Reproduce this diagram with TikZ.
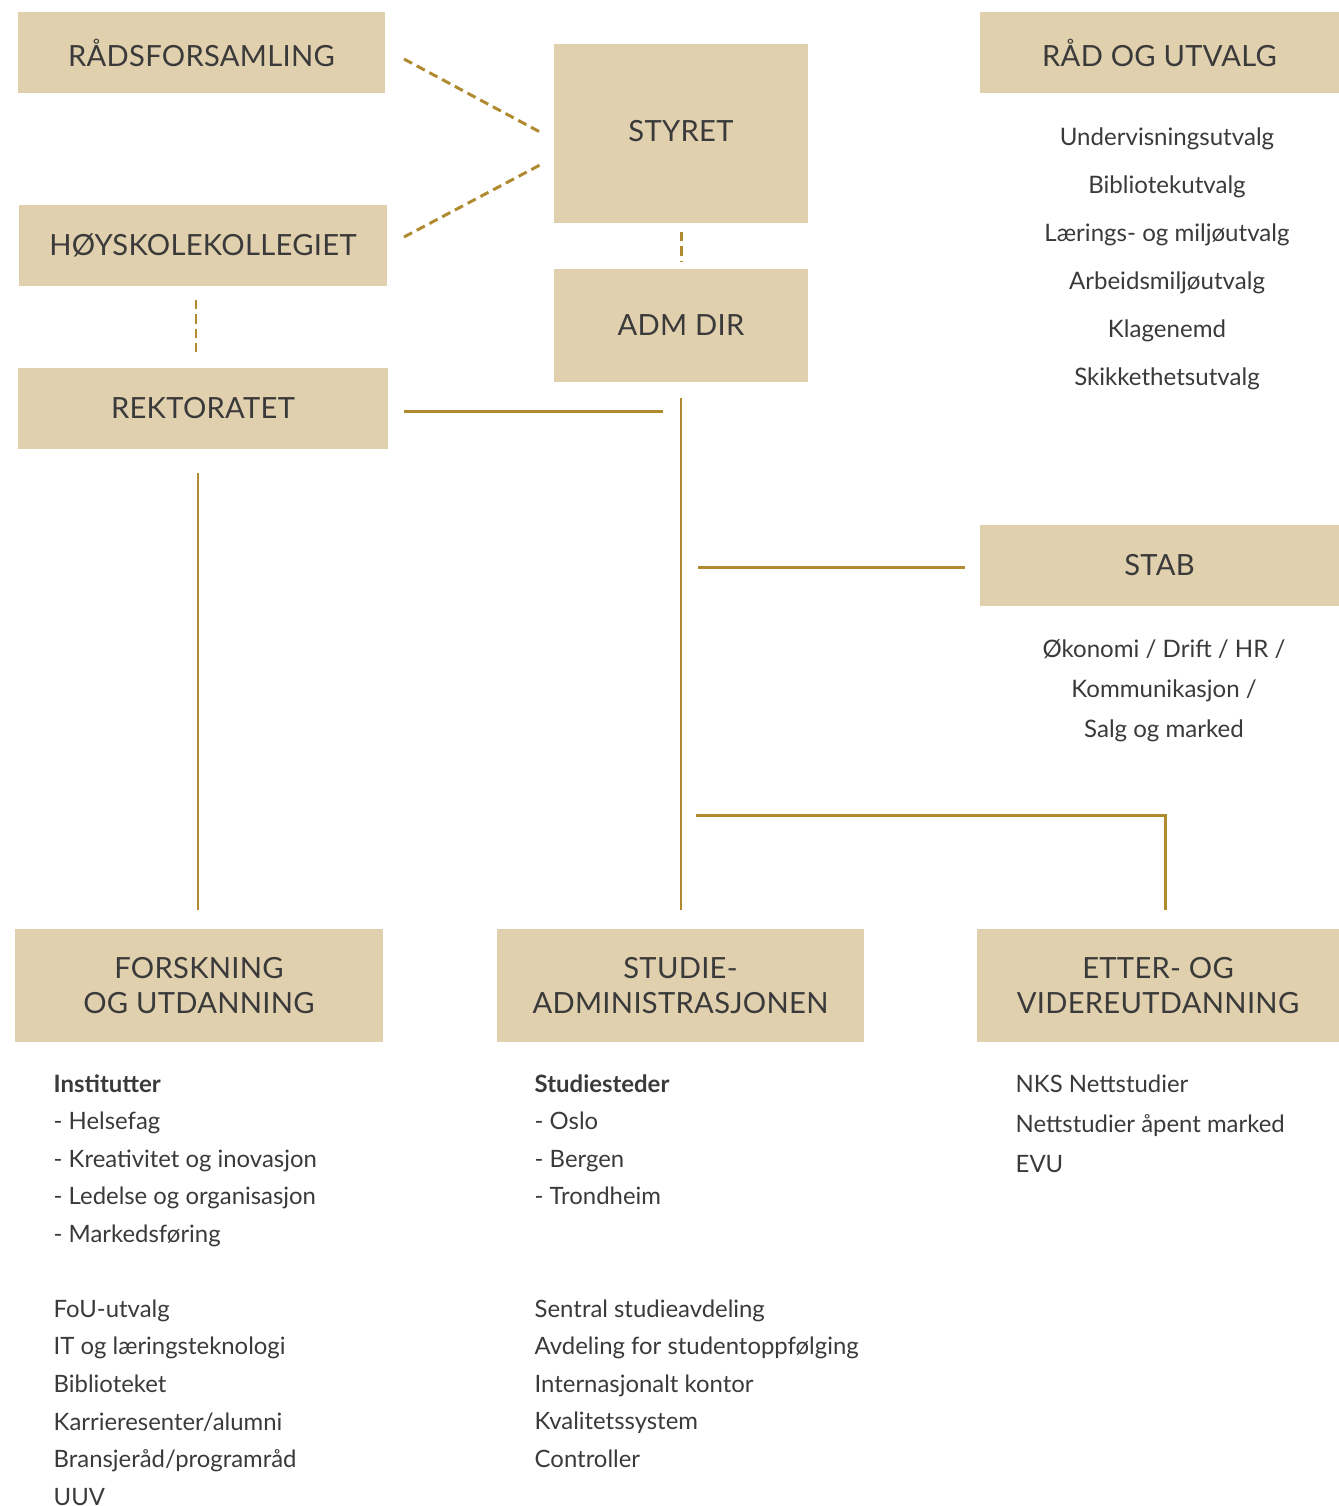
\documentclass[tikz,border=0pt]{standalone}
\usepackage{fontspec}
\setmainfont{Lato}
\newfontfamily\titlefont[LetterSpace=1]{Lato}
\definecolor{boxtan}{HTML}{E0D0AE}
\definecolor{linegold}{HTML}{B08A2F}
\definecolor{textgrey}{HTML}{3A3A3A}

\begin{document}
\begin{tikzpicture}[
	box/.style={fill=boxtan, draw=none, minimum height=0.81cm, inner sep=0pt, align=center, text=textgrey, font=\titlefont\fontsize{8.3}{10}\selectfont},
	conn/.style={linegold, line width=0.85pt},
	dconn/.style={linegold, line width=0.85pt, dash pattern=on 2.6pt off 1.5pt},
	txt/.style={inner sep=0pt, text=textgrey, font=\fontsize{6.8}{10.67}\selectfont}
]
	\useasboundingbox (0,0) rectangle (13.39,-15.06);

	\node (radsf)[box, minimum width=3.67cm] at (2.015,-0.525) {RÅDSFORSAMLING};
	\node (hoysk)[box, minimum width=3.68cm] at (2.03,-2.455) {HØYSKOLEKOLLEGIET};
	\node (rekt)[box, minimum width=3.70cm] at (2.03,-4.085) {REKTORATET};
	\node (styret)[box, minimum width=2.54cm, minimum height=1.79cm] at (6.81,-1.335) {\raisebox{0.06cm}{STYRET}};
	\node (admdir)[box, minimum width=2.54cm, minimum height=1.13cm] at (6.81,-3.255) {\raisebox{-0.03cm}{ADM DIR}};
	\node (radutv)[box, minimum width=3.59cm] at (11.595,-0.525) {RÅD OG UTVALG};
	\node (stab)[box, minimum width=3.59cm] at (11.595,-5.655) {STAB};
	\node (forsk)[box, minimum width=3.68cm, minimum height=1.13cm] at (1.99,-9.855) {FORSKNING\\OG UTDANNING};
	\node (studie)[box, minimum width=3.67cm, minimum height=1.13cm] at (6.805,-9.855) {STUDIE-\\ADMINISTRASJONEN};
	\node (etter)[box, minimum width=3.62cm, minimum height=1.13cm] at (11.58,-9.855) {ETTER- OG\\VIDEREUTDANNING};

	% connector ends
	\coordinate (radsfend) at (4.04,-0.59);
	\coordinate (styretup) at (5.40,-1.32);
	\coordinate (hoyskend) at (4.04,-2.37);
	\coordinate (styretlow) at (5.40,-1.65);
	\coordinate (styretbot) at (6.815,-2.32);
	\coordinate (admtop) at (6.815,-2.62);
	\coordinate (hoyskbot) at (1.96,-3.00);
	\coordinate (rekttop) at (1.96,-3.57);
	\coordinate (rektend) at (4.04,-4.11);
	\coordinate (spineleft) at (6.63,-4.11);
	\coordinate (spinetop) at (6.81,-3.98);
	\coordinate (spinebot) at (6.81,-9.10);
	\coordinate (rektbot) at (1.98,-4.73);
	\coordinate (forsktop) at (1.98,-9.10);
	\coordinate (stableft) at (6.98,-5.67);
	\coordinate (stabend) at (9.65,-5.67);
	\coordinate (etterleft) at (6.96,-8.15);
	\coordinate (ettercorner) at (11.65,-8.15);
	\coordinate (ettertop) at (11.65,-9.10);

	\draw [dconn] (radsfend) -- (styretup);
	\draw [dconn] (hoyskend) -- (styretlow);
	\draw [dconn] (styretbot) -- (admtop);
	\draw [dconn] (hoyskbot) -- (rekttop);
	\draw [conn] (rektend) -- (spineleft);
	\draw [conn] (spinetop) -- (spinebot);
	\draw [conn] (rektbot) -- (forsktop);
	\draw [conn] (stableft) -- (stabend);
	\draw [conn] (etterleft) -- (ettercorner) -- (ettertop);

	\node (utvlist)[txt, align=center, anchor=north, font=\fontsize{6.85}{13.66}\selectfont] at (11.67,-1.27) {Undervisningsutvalg\\Bibliotekutvalg\\Lærings- og miljøutvalg\\Arbeidsmiljøutvalg\\Klagenemd\\Skikkethetsutvalg};
	\node (stablist)[txt, align=center, anchor=north, font=\fontsize{6.85}{11.4}\selectfont] at (11.64,-6.39) {Økonomi / Drift / HR /\\Kommunikasjon /\\Salg og marked};

	\node (forsklist)[txt, align=left, anchor=north west] at (0.53,-10.74) {\textbf{Institutter}\\- Helsefag\\- Kreativitet og inovasjon\\- Ledelse og organisasjon\\- Markedsføring\\[10.67pt]FoU-utvalg\\IT og læringsteknologi\\Biblioteket\\Karrieresenter/alumni\\Bransjeråd/programråd\\UUV};
	\node (studielist)[txt, align=left, anchor=north west] at (5.34,-10.74) {\textbf{Studiesteder}\\- Oslo\\- Bergen\\- Trondheim\\[10.67pt]\\Sentral studieavdeling\\Avdeling for studentoppfølging\\Internasjonalt kontor\\Kvalitetssystem\\Controller};
	\node (etterlist)[txt, align=left, anchor=north west, font=\fontsize{6.8}{11.4}\selectfont] at (10.15,-10.74) {NKS Nettstudier\\Nettstudier åpent marked\\EVU};
\end{tikzpicture}
\end{document}
